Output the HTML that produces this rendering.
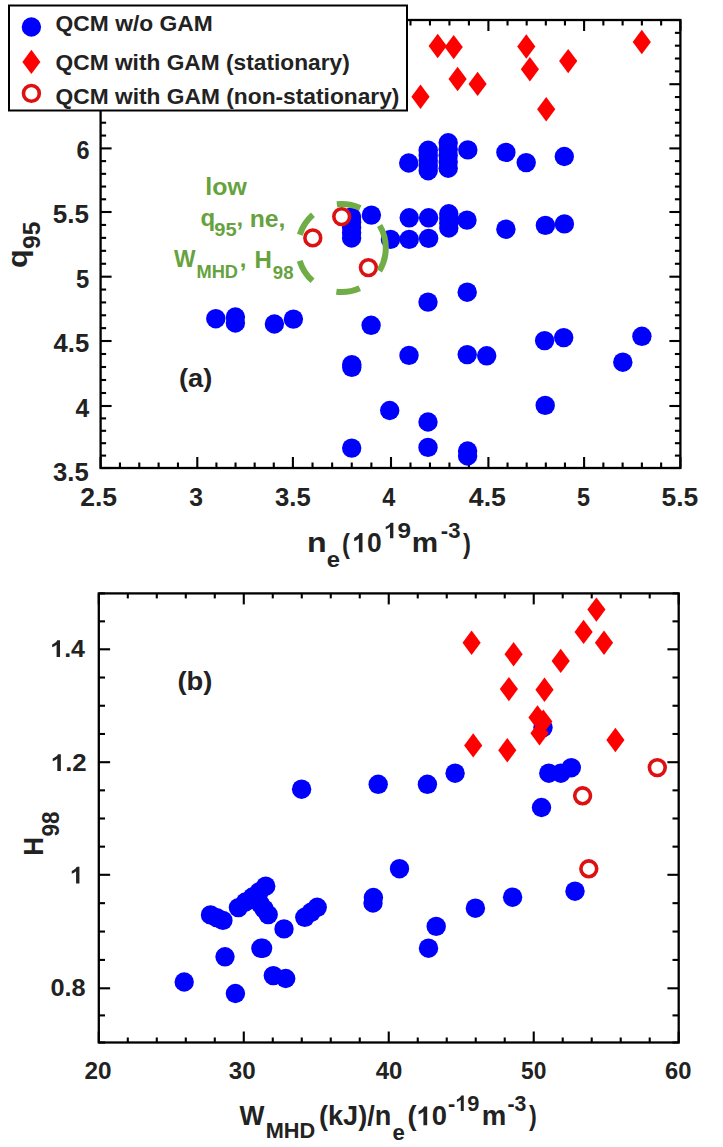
<!DOCTYPE html>
<html><head><meta charset="utf-8"><style>
html,body{margin:0;padding:0;background:#fff;width:723px;height:1147px;overflow:hidden}
svg text{font-family:"Liberation Sans", sans-serif;font-kerning:none}
</style></head><body>
<svg width="723" height="1147" viewBox="0 0 723 1147" style="position:absolute;left:0;top:0">
<rect width="723" height="1147" fill="#fff"/>
<line x1="100.60" y1="468.0" x2="100.60" y2="457.0" stroke="#000" stroke-width="2.1"/>
<line x1="100.60" y1="20.0" x2="100.60" y2="31.0" stroke="#000" stroke-width="2.1"/>
<line x1="197.30" y1="468.0" x2="197.30" y2="457.0" stroke="#000" stroke-width="2.1"/>
<line x1="197.30" y1="20.0" x2="197.30" y2="31.0" stroke="#000" stroke-width="2.1"/>
<line x1="292.90" y1="468.0" x2="292.90" y2="457.0" stroke="#000" stroke-width="2.1"/>
<line x1="292.90" y1="20.0" x2="292.90" y2="31.0" stroke="#000" stroke-width="2.1"/>
<line x1="391.00" y1="468.0" x2="391.00" y2="457.0" stroke="#000" stroke-width="2.1"/>
<line x1="391.00" y1="20.0" x2="391.00" y2="31.0" stroke="#000" stroke-width="2.1"/>
<line x1="488.40" y1="468.0" x2="488.40" y2="457.0" stroke="#000" stroke-width="2.1"/>
<line x1="488.40" y1="20.0" x2="488.40" y2="31.0" stroke="#000" stroke-width="2.1"/>
<line x1="584.10" y1="468.0" x2="584.10" y2="457.0" stroke="#000" stroke-width="2.1"/>
<line x1="584.10" y1="20.0" x2="584.10" y2="31.0" stroke="#000" stroke-width="2.1"/>
<line x1="680.40" y1="468.0" x2="680.40" y2="457.0" stroke="#000" stroke-width="2.1"/>
<line x1="680.40" y1="20.0" x2="680.40" y2="31.0" stroke="#000" stroke-width="2.1"/>
<line x1="119.94" y1="468.0" x2="119.94" y2="462.5" stroke="#000" stroke-width="2.1"/>
<line x1="119.94" y1="20.0" x2="119.94" y2="25.5" stroke="#000" stroke-width="2.1"/>
<line x1="139.28" y1="468.0" x2="139.28" y2="462.5" stroke="#000" stroke-width="2.1"/>
<line x1="139.28" y1="20.0" x2="139.28" y2="25.5" stroke="#000" stroke-width="2.1"/>
<line x1="158.62" y1="468.0" x2="158.62" y2="462.5" stroke="#000" stroke-width="2.1"/>
<line x1="158.62" y1="20.0" x2="158.62" y2="25.5" stroke="#000" stroke-width="2.1"/>
<line x1="177.96" y1="468.0" x2="177.96" y2="462.5" stroke="#000" stroke-width="2.1"/>
<line x1="177.96" y1="20.0" x2="177.96" y2="25.5" stroke="#000" stroke-width="2.1"/>
<line x1="216.42" y1="468.0" x2="216.42" y2="462.5" stroke="#000" stroke-width="2.1"/>
<line x1="216.42" y1="20.0" x2="216.42" y2="25.5" stroke="#000" stroke-width="2.1"/>
<line x1="235.54" y1="468.0" x2="235.54" y2="462.5" stroke="#000" stroke-width="2.1"/>
<line x1="235.54" y1="20.0" x2="235.54" y2="25.5" stroke="#000" stroke-width="2.1"/>
<line x1="254.66" y1="468.0" x2="254.66" y2="462.5" stroke="#000" stroke-width="2.1"/>
<line x1="254.66" y1="20.0" x2="254.66" y2="25.5" stroke="#000" stroke-width="2.1"/>
<line x1="273.78" y1="468.0" x2="273.78" y2="462.5" stroke="#000" stroke-width="2.1"/>
<line x1="273.78" y1="20.0" x2="273.78" y2="25.5" stroke="#000" stroke-width="2.1"/>
<line x1="312.52" y1="468.0" x2="312.52" y2="462.5" stroke="#000" stroke-width="2.1"/>
<line x1="312.52" y1="20.0" x2="312.52" y2="25.5" stroke="#000" stroke-width="2.1"/>
<line x1="332.14" y1="468.0" x2="332.14" y2="462.5" stroke="#000" stroke-width="2.1"/>
<line x1="332.14" y1="20.0" x2="332.14" y2="25.5" stroke="#000" stroke-width="2.1"/>
<line x1="351.76" y1="468.0" x2="351.76" y2="462.5" stroke="#000" stroke-width="2.1"/>
<line x1="351.76" y1="20.0" x2="351.76" y2="25.5" stroke="#000" stroke-width="2.1"/>
<line x1="371.38" y1="468.0" x2="371.38" y2="462.5" stroke="#000" stroke-width="2.1"/>
<line x1="371.38" y1="20.0" x2="371.38" y2="25.5" stroke="#000" stroke-width="2.1"/>
<line x1="410.48" y1="468.0" x2="410.48" y2="462.5" stroke="#000" stroke-width="2.1"/>
<line x1="410.48" y1="20.0" x2="410.48" y2="25.5" stroke="#000" stroke-width="2.1"/>
<line x1="429.96" y1="468.0" x2="429.96" y2="462.5" stroke="#000" stroke-width="2.1"/>
<line x1="429.96" y1="20.0" x2="429.96" y2="25.5" stroke="#000" stroke-width="2.1"/>
<line x1="449.44" y1="468.0" x2="449.44" y2="462.5" stroke="#000" stroke-width="2.1"/>
<line x1="449.44" y1="20.0" x2="449.44" y2="25.5" stroke="#000" stroke-width="2.1"/>
<line x1="468.92" y1="468.0" x2="468.92" y2="462.5" stroke="#000" stroke-width="2.1"/>
<line x1="468.92" y1="20.0" x2="468.92" y2="25.5" stroke="#000" stroke-width="2.1"/>
<line x1="507.54" y1="468.0" x2="507.54" y2="462.5" stroke="#000" stroke-width="2.1"/>
<line x1="507.54" y1="20.0" x2="507.54" y2="25.5" stroke="#000" stroke-width="2.1"/>
<line x1="526.68" y1="468.0" x2="526.68" y2="462.5" stroke="#000" stroke-width="2.1"/>
<line x1="526.68" y1="20.0" x2="526.68" y2="25.5" stroke="#000" stroke-width="2.1"/>
<line x1="545.82" y1="468.0" x2="545.82" y2="462.5" stroke="#000" stroke-width="2.1"/>
<line x1="545.82" y1="20.0" x2="545.82" y2="25.5" stroke="#000" stroke-width="2.1"/>
<line x1="564.96" y1="468.0" x2="564.96" y2="462.5" stroke="#000" stroke-width="2.1"/>
<line x1="564.96" y1="20.0" x2="564.96" y2="25.5" stroke="#000" stroke-width="2.1"/>
<line x1="603.36" y1="468.0" x2="603.36" y2="462.5" stroke="#000" stroke-width="2.1"/>
<line x1="603.36" y1="20.0" x2="603.36" y2="25.5" stroke="#000" stroke-width="2.1"/>
<line x1="622.62" y1="468.0" x2="622.62" y2="462.5" stroke="#000" stroke-width="2.1"/>
<line x1="622.62" y1="20.0" x2="622.62" y2="25.5" stroke="#000" stroke-width="2.1"/>
<line x1="641.88" y1="468.0" x2="641.88" y2="462.5" stroke="#000" stroke-width="2.1"/>
<line x1="641.88" y1="20.0" x2="641.88" y2="25.5" stroke="#000" stroke-width="2.1"/>
<line x1="661.14" y1="468.0" x2="661.14" y2="462.5" stroke="#000" stroke-width="2.1"/>
<line x1="661.14" y1="20.0" x2="661.14" y2="25.5" stroke="#000" stroke-width="2.1"/>
<line x1="100.6" y1="468.00" x2="111.6" y2="468.00" stroke="#000" stroke-width="2.1"/>
<line x1="680.4" y1="468.00" x2="669.4" y2="468.00" stroke="#000" stroke-width="2.1"/>
<line x1="100.6" y1="406.00" x2="111.6" y2="406.00" stroke="#000" stroke-width="2.1"/>
<line x1="680.4" y1="406.00" x2="669.4" y2="406.00" stroke="#000" stroke-width="2.1"/>
<line x1="100.6" y1="341.00" x2="111.6" y2="341.00" stroke="#000" stroke-width="2.1"/>
<line x1="680.4" y1="341.00" x2="669.4" y2="341.00" stroke="#000" stroke-width="2.1"/>
<line x1="100.6" y1="276.70" x2="111.6" y2="276.70" stroke="#000" stroke-width="2.1"/>
<line x1="680.4" y1="276.70" x2="669.4" y2="276.70" stroke="#000" stroke-width="2.1"/>
<line x1="100.6" y1="212.00" x2="111.6" y2="212.00" stroke="#000" stroke-width="2.1"/>
<line x1="680.4" y1="212.00" x2="669.4" y2="212.00" stroke="#000" stroke-width="2.1"/>
<line x1="100.6" y1="148.40" x2="111.6" y2="148.40" stroke="#000" stroke-width="2.1"/>
<line x1="680.4" y1="148.40" x2="669.4" y2="148.40" stroke="#000" stroke-width="2.1"/>
<line x1="100.6" y1="84.20" x2="111.6" y2="84.20" stroke="#000" stroke-width="2.1"/>
<line x1="680.4" y1="84.20" x2="669.4" y2="84.20" stroke="#000" stroke-width="2.1"/>
<line x1="100.6" y1="20.00" x2="111.6" y2="20.00" stroke="#000" stroke-width="2.1"/>
<line x1="680.4" y1="20.00" x2="669.4" y2="20.00" stroke="#000" stroke-width="2.1"/>
<line x1="100.6" y1="455.60" x2="106.1" y2="455.60" stroke="#000" stroke-width="2.1"/>
<line x1="680.4" y1="455.60" x2="674.9" y2="455.60" stroke="#000" stroke-width="2.1"/>
<line x1="100.6" y1="443.20" x2="106.1" y2="443.20" stroke="#000" stroke-width="2.1"/>
<line x1="680.4" y1="443.20" x2="674.9" y2="443.20" stroke="#000" stroke-width="2.1"/>
<line x1="100.6" y1="430.80" x2="106.1" y2="430.80" stroke="#000" stroke-width="2.1"/>
<line x1="680.4" y1="430.80" x2="674.9" y2="430.80" stroke="#000" stroke-width="2.1"/>
<line x1="100.6" y1="418.40" x2="106.1" y2="418.40" stroke="#000" stroke-width="2.1"/>
<line x1="680.4" y1="418.40" x2="674.9" y2="418.40" stroke="#000" stroke-width="2.1"/>
<line x1="100.6" y1="393.00" x2="106.1" y2="393.00" stroke="#000" stroke-width="2.1"/>
<line x1="680.4" y1="393.00" x2="674.9" y2="393.00" stroke="#000" stroke-width="2.1"/>
<line x1="100.6" y1="380.00" x2="106.1" y2="380.00" stroke="#000" stroke-width="2.1"/>
<line x1="680.4" y1="380.00" x2="674.9" y2="380.00" stroke="#000" stroke-width="2.1"/>
<line x1="100.6" y1="367.00" x2="106.1" y2="367.00" stroke="#000" stroke-width="2.1"/>
<line x1="680.4" y1="367.00" x2="674.9" y2="367.00" stroke="#000" stroke-width="2.1"/>
<line x1="100.6" y1="354.00" x2="106.1" y2="354.00" stroke="#000" stroke-width="2.1"/>
<line x1="680.4" y1="354.00" x2="674.9" y2="354.00" stroke="#000" stroke-width="2.1"/>
<line x1="100.6" y1="328.14" x2="106.1" y2="328.14" stroke="#000" stroke-width="2.1"/>
<line x1="680.4" y1="328.14" x2="674.9" y2="328.14" stroke="#000" stroke-width="2.1"/>
<line x1="100.6" y1="315.28" x2="106.1" y2="315.28" stroke="#000" stroke-width="2.1"/>
<line x1="680.4" y1="315.28" x2="674.9" y2="315.28" stroke="#000" stroke-width="2.1"/>
<line x1="100.6" y1="302.42" x2="106.1" y2="302.42" stroke="#000" stroke-width="2.1"/>
<line x1="680.4" y1="302.42" x2="674.9" y2="302.42" stroke="#000" stroke-width="2.1"/>
<line x1="100.6" y1="289.56" x2="106.1" y2="289.56" stroke="#000" stroke-width="2.1"/>
<line x1="680.4" y1="289.56" x2="674.9" y2="289.56" stroke="#000" stroke-width="2.1"/>
<line x1="100.6" y1="263.76" x2="106.1" y2="263.76" stroke="#000" stroke-width="2.1"/>
<line x1="680.4" y1="263.76" x2="674.9" y2="263.76" stroke="#000" stroke-width="2.1"/>
<line x1="100.6" y1="250.82" x2="106.1" y2="250.82" stroke="#000" stroke-width="2.1"/>
<line x1="680.4" y1="250.82" x2="674.9" y2="250.82" stroke="#000" stroke-width="2.1"/>
<line x1="100.6" y1="237.88" x2="106.1" y2="237.88" stroke="#000" stroke-width="2.1"/>
<line x1="680.4" y1="237.88" x2="674.9" y2="237.88" stroke="#000" stroke-width="2.1"/>
<line x1="100.6" y1="224.94" x2="106.1" y2="224.94" stroke="#000" stroke-width="2.1"/>
<line x1="680.4" y1="224.94" x2="674.9" y2="224.94" stroke="#000" stroke-width="2.1"/>
<line x1="100.6" y1="199.28" x2="106.1" y2="199.28" stroke="#000" stroke-width="2.1"/>
<line x1="680.4" y1="199.28" x2="674.9" y2="199.28" stroke="#000" stroke-width="2.1"/>
<line x1="100.6" y1="186.56" x2="106.1" y2="186.56" stroke="#000" stroke-width="2.1"/>
<line x1="680.4" y1="186.56" x2="674.9" y2="186.56" stroke="#000" stroke-width="2.1"/>
<line x1="100.6" y1="173.84" x2="106.1" y2="173.84" stroke="#000" stroke-width="2.1"/>
<line x1="680.4" y1="173.84" x2="674.9" y2="173.84" stroke="#000" stroke-width="2.1"/>
<line x1="100.6" y1="161.12" x2="106.1" y2="161.12" stroke="#000" stroke-width="2.1"/>
<line x1="680.4" y1="161.12" x2="674.9" y2="161.12" stroke="#000" stroke-width="2.1"/>
<line x1="100.6" y1="135.56" x2="106.1" y2="135.56" stroke="#000" stroke-width="2.1"/>
<line x1="680.4" y1="135.56" x2="674.9" y2="135.56" stroke="#000" stroke-width="2.1"/>
<line x1="100.6" y1="122.72" x2="106.1" y2="122.72" stroke="#000" stroke-width="2.1"/>
<line x1="680.4" y1="122.72" x2="674.9" y2="122.72" stroke="#000" stroke-width="2.1"/>
<line x1="100.6" y1="109.88" x2="106.1" y2="109.88" stroke="#000" stroke-width="2.1"/>
<line x1="680.4" y1="109.88" x2="674.9" y2="109.88" stroke="#000" stroke-width="2.1"/>
<line x1="100.6" y1="97.04" x2="106.1" y2="97.04" stroke="#000" stroke-width="2.1"/>
<line x1="680.4" y1="97.04" x2="674.9" y2="97.04" stroke="#000" stroke-width="2.1"/>
<line x1="100.6" y1="71.36" x2="106.1" y2="71.36" stroke="#000" stroke-width="2.1"/>
<line x1="680.4" y1="71.36" x2="674.9" y2="71.36" stroke="#000" stroke-width="2.1"/>
<line x1="100.6" y1="58.52" x2="106.1" y2="58.52" stroke="#000" stroke-width="2.1"/>
<line x1="680.4" y1="58.52" x2="674.9" y2="58.52" stroke="#000" stroke-width="2.1"/>
<line x1="100.6" y1="45.68" x2="106.1" y2="45.68" stroke="#000" stroke-width="2.1"/>
<line x1="680.4" y1="45.68" x2="674.9" y2="45.68" stroke="#000" stroke-width="2.1"/>
<line x1="100.6" y1="32.84" x2="106.1" y2="32.84" stroke="#000" stroke-width="2.1"/>
<line x1="680.4" y1="32.84" x2="674.9" y2="32.84" stroke="#000" stroke-width="2.1"/>
<rect x="100.6" y="20.0" width="579.8" height="448.0" fill="none" stroke="#000" stroke-width="2.3"/>
<circle cx="408.7" cy="163" r="9.7" fill="#0000ff"/>
<circle cx="428.2" cy="150.3" r="9.7" fill="#0000ff"/>
<circle cx="428.2" cy="155.4" r="9.7" fill="#0000ff"/>
<circle cx="428.2" cy="160.5" r="9.7" fill="#0000ff"/>
<circle cx="428.2" cy="165.6" r="9.7" fill="#0000ff"/>
<circle cx="428.2" cy="170.7" r="9.7" fill="#0000ff"/>
<circle cx="448.2" cy="142.8" r="9.7" fill="#0000ff"/>
<circle cx="448.2" cy="149.2" r="9.7" fill="#0000ff"/>
<circle cx="448.2" cy="155.5" r="9.7" fill="#0000ff"/>
<circle cx="448.2" cy="161.9" r="9.7" fill="#0000ff"/>
<circle cx="448.2" cy="168.2" r="9.7" fill="#0000ff"/>
<circle cx="467.8" cy="149.9" r="9.7" fill="#0000ff"/>
<circle cx="505.9" cy="152.4" r="9.7" fill="#0000ff"/>
<circle cx="526.2" cy="162.6" r="9.7" fill="#0000ff"/>
<circle cx="564.3" cy="156.5" r="9.7" fill="#0000ff"/>
<circle cx="409.2" cy="217.8" r="9.7" fill="#0000ff"/>
<circle cx="428.6" cy="217.8" r="9.7" fill="#0000ff"/>
<circle cx="448.8" cy="213.8" r="9.7" fill="#0000ff"/>
<circle cx="448.8" cy="218.5" r="9.7" fill="#0000ff"/>
<circle cx="448.8" cy="223.2" r="9.7" fill="#0000ff"/>
<circle cx="448.8" cy="228" r="9.7" fill="#0000ff"/>
<circle cx="467" cy="220.1" r="9.7" fill="#0000ff"/>
<circle cx="505.9" cy="229.2" r="9.7" fill="#0000ff"/>
<circle cx="545.4" cy="225.4" r="9.7" fill="#0000ff"/>
<circle cx="564.4" cy="223.9" r="9.7" fill="#0000ff"/>
<circle cx="371.4" cy="215.1" r="9.7" fill="#0000ff"/>
<circle cx="390.5" cy="239.4" r="9.7" fill="#0000ff"/>
<circle cx="409.2" cy="239.4" r="9.7" fill="#0000ff"/>
<circle cx="428.6" cy="238.4" r="9.7" fill="#0000ff"/>
<circle cx="351.6" cy="217" r="9.7" fill="#0000ff"/>
<circle cx="351.6" cy="222.3" r="9.7" fill="#0000ff"/>
<circle cx="351.6" cy="227.5" r="9.7" fill="#0000ff"/>
<circle cx="351.6" cy="232.8" r="9.7" fill="#0000ff"/>
<circle cx="351.6" cy="238" r="9.7" fill="#0000ff"/>
<circle cx="428" cy="302.1" r="9.7" fill="#0000ff"/>
<circle cx="467.2" cy="292.2" r="9.7" fill="#0000ff"/>
<circle cx="371.1" cy="325.3" r="9.7" fill="#0000ff"/>
<circle cx="351.8" cy="364.6" r="9.7" fill="#0000ff"/>
<circle cx="351.8" cy="367.4" r="9.7" fill="#0000ff"/>
<circle cx="409" cy="355.4" r="9.7" fill="#0000ff"/>
<circle cx="467.2" cy="354.6" r="9.7" fill="#0000ff"/>
<circle cx="486.7" cy="355.8" r="9.7" fill="#0000ff"/>
<circle cx="544.6" cy="340.6" r="9.7" fill="#0000ff"/>
<circle cx="563.7" cy="337.6" r="9.7" fill="#0000ff"/>
<circle cx="641.9" cy="336.3" r="9.7" fill="#0000ff"/>
<circle cx="622.8" cy="362.2" r="9.7" fill="#0000ff"/>
<circle cx="545.2" cy="405.4" r="9.7" fill="#0000ff"/>
<circle cx="389.7" cy="410.5" r="9.7" fill="#0000ff"/>
<circle cx="428" cy="422" r="9.7" fill="#0000ff"/>
<circle cx="428" cy="447.4" r="9.7" fill="#0000ff"/>
<circle cx="351.7" cy="448.1" r="9.7" fill="#0000ff"/>
<circle cx="467.6" cy="451" r="9.7" fill="#0000ff"/>
<circle cx="467.6" cy="456" r="9.7" fill="#0000ff"/>
<circle cx="215.8" cy="318.7" r="9.7" fill="#0000ff"/>
<circle cx="235.4" cy="317" r="9.7" fill="#0000ff"/>
<circle cx="235.4" cy="323" r="9.7" fill="#0000ff"/>
<circle cx="274.4" cy="324" r="9.7" fill="#0000ff"/>
<circle cx="293.4" cy="319.1" r="9.7" fill="#0000ff"/>
<circle cx="341.7" cy="216.6" r="7.9" fill="#fff" stroke="#dd1111" stroke-width="3.6"/>
<circle cx="312.8" cy="237.9" r="7.9" fill="#fff" stroke="#dd1111" stroke-width="3.6"/>
<circle cx="368.4" cy="267.6" r="7.9" fill="#fff" stroke="#dd1111" stroke-width="3.6"/>
<polygon points="437.7,33.8 446.8,46 437.7,58.2 428.59999999999997,46" fill="#ff0000"/>
<polygon points="453.7,34.900000000000006 462.8,47.1 453.7,59.3 444.59999999999997,47.1" fill="#ff0000"/>
<polygon points="457.6,66.8 466.70000000000005,79 457.6,91.2 448.5,79" fill="#ff0000"/>
<polygon points="477.6,71.7 486.70000000000005,83.9 477.6,96.10000000000001 468.5,83.9" fill="#ff0000"/>
<polygon points="420.5,84.5 429.6,96.7 420.5,108.9 411.4,96.7" fill="#ff0000"/>
<polygon points="526.3,34.3 535.4,46.5 526.3,58.7 517.1999999999999,46.5" fill="#ff0000"/>
<polygon points="529.9,57.099999999999994 539.0,69.3 529.9,81.5 520.8,69.3" fill="#ff0000"/>
<polygon points="568.2,48.900000000000006 577.3000000000001,61.1 568.2,73.3 559.1,61.1" fill="#ff0000"/>
<polygon points="546.2,97.1 555.3000000000001,109.3 546.2,121.5 537.1,109.3" fill="#ff0000"/>
<polygon points="641.8,29.8 650.9,42 641.8,54.2 632.6999999999999,42" fill="#ff0000"/>
<circle cx="341.8" cy="248" r="44" fill="none" stroke="#70ad47" stroke-width="6" stroke-dasharray="24 26.5"/>
<rect x="9" y="5.5" width="398" height="105" fill="#fff" stroke="#000" stroke-width="2"/>
<circle cx="31.4" cy="27" r="9.7" fill="#0000ff"/>
<polygon points="31.4,49.8 40.4,61.9 31.4,74.0 22.4,61.9" fill="#ff0000"/>
<circle cx="31.4" cy="93.4" r="7.9" fill="#fff" stroke="#dd1111" stroke-width="3.6"/>
<line x1="98.80" y1="1042.5" x2="98.80" y2="1031.5" stroke="#000" stroke-width="2.1"/>
<line x1="98.80" y1="593.4" x2="98.80" y2="604.4" stroke="#000" stroke-width="2.1"/>
<line x1="243.78" y1="1042.5" x2="243.78" y2="1031.5" stroke="#000" stroke-width="2.1"/>
<line x1="243.78" y1="593.4" x2="243.78" y2="604.4" stroke="#000" stroke-width="2.1"/>
<line x1="388.75" y1="1042.5" x2="388.75" y2="1031.5" stroke="#000" stroke-width="2.1"/>
<line x1="388.75" y1="593.4" x2="388.75" y2="604.4" stroke="#000" stroke-width="2.1"/>
<line x1="533.73" y1="1042.5" x2="533.73" y2="1031.5" stroke="#000" stroke-width="2.1"/>
<line x1="533.73" y1="593.4" x2="533.73" y2="604.4" stroke="#000" stroke-width="2.1"/>
<line x1="678.70" y1="1042.5" x2="678.70" y2="1031.5" stroke="#000" stroke-width="2.1"/>
<line x1="678.70" y1="593.4" x2="678.70" y2="604.4" stroke="#000" stroke-width="2.1"/>
<line x1="127.80" y1="1042.5" x2="127.80" y2="1037.5" stroke="#000" stroke-width="2.1"/>
<line x1="127.80" y1="593.4" x2="127.80" y2="598.4" stroke="#000" stroke-width="2.1"/>
<line x1="156.79" y1="1042.5" x2="156.79" y2="1037.5" stroke="#000" stroke-width="2.1"/>
<line x1="156.79" y1="593.4" x2="156.79" y2="598.4" stroke="#000" stroke-width="2.1"/>
<line x1="185.79" y1="1042.5" x2="185.79" y2="1037.5" stroke="#000" stroke-width="2.1"/>
<line x1="185.79" y1="593.4" x2="185.79" y2="598.4" stroke="#000" stroke-width="2.1"/>
<line x1="214.78" y1="1042.5" x2="214.78" y2="1037.5" stroke="#000" stroke-width="2.1"/>
<line x1="214.78" y1="593.4" x2="214.78" y2="598.4" stroke="#000" stroke-width="2.1"/>
<line x1="272.77" y1="1042.5" x2="272.77" y2="1037.5" stroke="#000" stroke-width="2.1"/>
<line x1="272.77" y1="593.4" x2="272.77" y2="598.4" stroke="#000" stroke-width="2.1"/>
<line x1="301.77" y1="1042.5" x2="301.77" y2="1037.5" stroke="#000" stroke-width="2.1"/>
<line x1="301.77" y1="593.4" x2="301.77" y2="598.4" stroke="#000" stroke-width="2.1"/>
<line x1="330.76" y1="1042.5" x2="330.76" y2="1037.5" stroke="#000" stroke-width="2.1"/>
<line x1="330.76" y1="593.4" x2="330.76" y2="598.4" stroke="#000" stroke-width="2.1"/>
<line x1="359.76" y1="1042.5" x2="359.76" y2="1037.5" stroke="#000" stroke-width="2.1"/>
<line x1="359.76" y1="593.4" x2="359.76" y2="598.4" stroke="#000" stroke-width="2.1"/>
<line x1="417.75" y1="1042.5" x2="417.75" y2="1037.5" stroke="#000" stroke-width="2.1"/>
<line x1="417.75" y1="593.4" x2="417.75" y2="598.4" stroke="#000" stroke-width="2.1"/>
<line x1="446.74" y1="1042.5" x2="446.74" y2="1037.5" stroke="#000" stroke-width="2.1"/>
<line x1="446.74" y1="593.4" x2="446.74" y2="598.4" stroke="#000" stroke-width="2.1"/>
<line x1="475.74" y1="1042.5" x2="475.74" y2="1037.5" stroke="#000" stroke-width="2.1"/>
<line x1="475.74" y1="593.4" x2="475.74" y2="598.4" stroke="#000" stroke-width="2.1"/>
<line x1="504.73" y1="1042.5" x2="504.73" y2="1037.5" stroke="#000" stroke-width="2.1"/>
<line x1="504.73" y1="593.4" x2="504.73" y2="598.4" stroke="#000" stroke-width="2.1"/>
<line x1="562.72" y1="1042.5" x2="562.72" y2="1037.5" stroke="#000" stroke-width="2.1"/>
<line x1="562.72" y1="593.4" x2="562.72" y2="598.4" stroke="#000" stroke-width="2.1"/>
<line x1="591.72" y1="1042.5" x2="591.72" y2="1037.5" stroke="#000" stroke-width="2.1"/>
<line x1="591.72" y1="593.4" x2="591.72" y2="598.4" stroke="#000" stroke-width="2.1"/>
<line x1="620.71" y1="1042.5" x2="620.71" y2="1037.5" stroke="#000" stroke-width="2.1"/>
<line x1="620.71" y1="593.4" x2="620.71" y2="598.4" stroke="#000" stroke-width="2.1"/>
<line x1="649.71" y1="1042.5" x2="649.71" y2="1037.5" stroke="#000" stroke-width="2.1"/>
<line x1="649.71" y1="593.4" x2="649.71" y2="598.4" stroke="#000" stroke-width="2.1"/>
<line x1="98.8" y1="988.30" x2="110.1" y2="988.30" stroke="#000" stroke-width="2.1"/>
<line x1="678.7" y1="988.30" x2="667.4000000000001" y2="988.30" stroke="#000" stroke-width="2.1"/>
<line x1="98.8" y1="874.80" x2="110.1" y2="874.80" stroke="#000" stroke-width="2.1"/>
<line x1="678.7" y1="874.80" x2="667.4000000000001" y2="874.80" stroke="#000" stroke-width="2.1"/>
<line x1="98.8" y1="762.20" x2="110.1" y2="762.20" stroke="#000" stroke-width="2.1"/>
<line x1="678.7" y1="762.20" x2="667.4000000000001" y2="762.20" stroke="#000" stroke-width="2.1"/>
<line x1="98.8" y1="649.30" x2="110.1" y2="649.30" stroke="#000" stroke-width="2.1"/>
<line x1="678.7" y1="649.30" x2="667.4000000000001" y2="649.30" stroke="#000" stroke-width="2.1"/>
<line x1="98.8" y1="1042.50" x2="105.0" y2="1042.50" stroke="#000" stroke-width="2.1"/>
<line x1="678.7" y1="1042.50" x2="672.5" y2="1042.50" stroke="#000" stroke-width="2.1"/>
<line x1="98.8" y1="1015.40" x2="105.0" y2="1015.40" stroke="#000" stroke-width="2.1"/>
<line x1="678.7" y1="1015.40" x2="672.5" y2="1015.40" stroke="#000" stroke-width="2.1"/>
<line x1="98.8" y1="959.92" x2="105.0" y2="959.92" stroke="#000" stroke-width="2.1"/>
<line x1="678.7" y1="959.92" x2="672.5" y2="959.92" stroke="#000" stroke-width="2.1"/>
<line x1="98.8" y1="931.55" x2="105.0" y2="931.55" stroke="#000" stroke-width="2.1"/>
<line x1="678.7" y1="931.55" x2="672.5" y2="931.55" stroke="#000" stroke-width="2.1"/>
<line x1="98.8" y1="903.17" x2="105.0" y2="903.17" stroke="#000" stroke-width="2.1"/>
<line x1="678.7" y1="903.17" x2="672.5" y2="903.17" stroke="#000" stroke-width="2.1"/>
<line x1="98.8" y1="846.65" x2="105.0" y2="846.65" stroke="#000" stroke-width="2.1"/>
<line x1="678.7" y1="846.65" x2="672.5" y2="846.65" stroke="#000" stroke-width="2.1"/>
<line x1="98.8" y1="818.50" x2="105.0" y2="818.50" stroke="#000" stroke-width="2.1"/>
<line x1="678.7" y1="818.50" x2="672.5" y2="818.50" stroke="#000" stroke-width="2.1"/>
<line x1="98.8" y1="790.35" x2="105.0" y2="790.35" stroke="#000" stroke-width="2.1"/>
<line x1="678.7" y1="790.35" x2="672.5" y2="790.35" stroke="#000" stroke-width="2.1"/>
<line x1="98.8" y1="733.98" x2="105.0" y2="733.98" stroke="#000" stroke-width="2.1"/>
<line x1="678.7" y1="733.98" x2="672.5" y2="733.98" stroke="#000" stroke-width="2.1"/>
<line x1="98.8" y1="705.75" x2="105.0" y2="705.75" stroke="#000" stroke-width="2.1"/>
<line x1="678.7" y1="705.75" x2="672.5" y2="705.75" stroke="#000" stroke-width="2.1"/>
<line x1="98.8" y1="677.52" x2="105.0" y2="677.52" stroke="#000" stroke-width="2.1"/>
<line x1="678.7" y1="677.52" x2="672.5" y2="677.52" stroke="#000" stroke-width="2.1"/>
<line x1="98.8" y1="621.35" x2="105.0" y2="621.35" stroke="#000" stroke-width="2.1"/>
<line x1="678.7" y1="621.35" x2="672.5" y2="621.35" stroke="#000" stroke-width="2.1"/>
<line x1="98.8" y1="593.40" x2="105.0" y2="593.40" stroke="#000" stroke-width="2.1"/>
<line x1="678.7" y1="593.40" x2="672.5" y2="593.40" stroke="#000" stroke-width="2.1"/>
<rect x="98.8" y="593.4" width="579.9000000000001" height="449.1" fill="none" stroke="#000" stroke-width="2.3"/>
<circle cx="184.2" cy="982" r="9.7" fill="#0000ff"/>
<circle cx="225" cy="956.8" r="9.7" fill="#0000ff"/>
<circle cx="235.4" cy="993.5" r="9.7" fill="#0000ff"/>
<circle cx="210.5" cy="914.9" r="9.7" fill="#0000ff"/>
<circle cx="216.7" cy="917.6" r="9.7" fill="#0000ff"/>
<circle cx="222.9" cy="920.4" r="9.7" fill="#0000ff"/>
<circle cx="238.4" cy="907.6" r="9.7" fill="#0000ff"/>
<circle cx="245.5" cy="902" r="9.7" fill="#0000ff"/>
<circle cx="252.5" cy="897" r="9.7" fill="#0000ff"/>
<circle cx="259" cy="892" r="9.7" fill="#0000ff"/>
<circle cx="265.7" cy="886.2" r="9.7" fill="#0000ff"/>
<circle cx="260" cy="903.5" r="9.7" fill="#0000ff"/>
<circle cx="264.2" cy="909.2" r="9.7" fill="#0000ff"/>
<circle cx="268.2" cy="914.6" r="9.7" fill="#0000ff"/>
<circle cx="284" cy="928.9" r="9.7" fill="#0000ff"/>
<circle cx="260.9" cy="948.3" r="9.7" fill="#0000ff"/>
<circle cx="262.6" cy="948.3" r="9.7" fill="#0000ff"/>
<circle cx="273.3" cy="975.6" r="9.7" fill="#0000ff"/>
<circle cx="285.7" cy="978.5" r="9.7" fill="#0000ff"/>
<circle cx="304.8" cy="917.3" r="9.7" fill="#0000ff"/>
<circle cx="311" cy="912.3" r="9.7" fill="#0000ff"/>
<circle cx="317.2" cy="907.3" r="9.7" fill="#0000ff"/>
<circle cx="373.4" cy="897.5" r="9.7" fill="#0000ff"/>
<circle cx="373" cy="903" r="9.7" fill="#0000ff"/>
<circle cx="399.5" cy="868.7" r="9.7" fill="#0000ff"/>
<circle cx="436.2" cy="926.4" r="9.7" fill="#0000ff"/>
<circle cx="428.5" cy="948.2" r="9.7" fill="#0000ff"/>
<circle cx="475.4" cy="908.2" r="9.7" fill="#0000ff"/>
<circle cx="512.6" cy="897.2" r="9.7" fill="#0000ff"/>
<circle cx="575" cy="891.2" r="9.7" fill="#0000ff"/>
<circle cx="301.6" cy="789.2" r="9.7" fill="#0000ff"/>
<circle cx="378.2" cy="784.3" r="9.7" fill="#0000ff"/>
<circle cx="427.4" cy="784.3" r="9.7" fill="#0000ff"/>
<circle cx="455.1" cy="773.2" r="9.7" fill="#0000ff"/>
<circle cx="543" cy="727.6" r="9.7" fill="#0000ff"/>
<circle cx="548.8" cy="773.2" r="9.7" fill="#0000ff"/>
<circle cx="560.9" cy="773.2" r="9.7" fill="#0000ff"/>
<circle cx="571.3" cy="767.7" r="9.7" fill="#0000ff"/>
<circle cx="541.5" cy="807.5" r="9.7" fill="#0000ff"/>
<circle cx="657.3" cy="767.6" r="7.9" fill="#fff" stroke="#dd1111" stroke-width="3.6"/>
<circle cx="582.6" cy="795.8" r="7.9" fill="#fff" stroke="#dd1111" stroke-width="3.6"/>
<circle cx="588.8" cy="868.8" r="7.9" fill="#fff" stroke="#dd1111" stroke-width="3.6"/>
<polygon points="471.6,630.5 480.70000000000005,642.7 471.6,654.9000000000001 462.5,642.7" fill="#ff0000"/>
<polygon points="513.6,642.0 522.7,654.2 513.6,666.4000000000001 504.5,654.2" fill="#ff0000"/>
<polygon points="508.9,676.9 518.0,689.1 508.9,701.3000000000001 499.79999999999995,689.1" fill="#ff0000"/>
<polygon points="544.5,677.5 553.6,689.7 544.5,701.9000000000001 535.4,689.7" fill="#ff0000"/>
<polygon points="560.7,648.6999999999999 569.8000000000001,660.9 560.7,673.1 551.6,660.9" fill="#ff0000"/>
<polygon points="583.6,619.6999999999999 592.7,631.9 583.6,644.1 574.5,631.9" fill="#ff0000"/>
<polygon points="596.4,597.4 605.5,609.6 596.4,621.8000000000001 587.3,609.6" fill="#ff0000"/>
<polygon points="604,630.5 613.1,642.7 604,654.9000000000001 594.9,642.7" fill="#ff0000"/>
<polygon points="537.5,705.1999999999999 546.6,717.4 537.5,729.6 528.4,717.4" fill="#ff0000"/>
<polygon points="543.3,709.4 552.4,721.6 543.3,733.8000000000001 534.1999999999999,721.6" fill="#ff0000"/>
<polygon points="539.5,721.0 548.6,733.2 539.5,745.4000000000001 530.4,733.2" fill="#ff0000"/>
<polygon points="615.4,727.8 624.5,740 615.4,752.2 606.3,740" fill="#ff0000"/>
<polygon points="473.2,733.1999999999999 482.3,745.4 473.2,757.6 464.09999999999997,745.4" fill="#ff0000"/>
<polygon points="507.3,738.0 516.4,750.2 507.3,762.4000000000001 498.2,750.2" fill="#ff0000"/>
<text transform="translate(55.58,31.3) scale(1.0145,1)" font-size="22.5" font-weight="bold" fill="#222">QCM w/o GAM</text>
<text transform="translate(55.59,69.6) scale(1.0104,1)" font-size="22.5" font-weight="bold" fill="#222">QCM with GAM (stationary)</text>
<text transform="translate(55.59,103.8) scale(1.0118,1)" font-size="22.5" font-weight="bold" fill="#222">QCM with GAM (non-stationary)</text>
<text transform="translate(80.2,505.6) scale(1.0418,1)" font-size="25.5" font-weight="bold" fill="#222">2.5</text>
<text transform="translate(189.2,505.6) scale(0.9702,1)" font-size="25.5" font-weight="bold" fill="#222">3</text>
<text transform="translate(275.1,505.6) scale(1.0062,1)" font-size="25.5" font-weight="bold" fill="#222">3.5</text>
<text transform="translate(382.3,505.6) scale(0.92,1)" font-size="25.5" font-weight="bold" fill="#222">4</text>
<text transform="translate(468.8,505.6) scale(1.0474,1)" font-size="25.5" font-weight="bold" fill="#222">4.5</text>
<text transform="translate(577.0,505.6) scale(0.92,1)" font-size="25.5" font-weight="bold" fill="#222">5</text>
<text transform="translate(661.6,505.6) scale(1.0358,1)" font-size="25.5" font-weight="bold" fill="#222">5.5</text>
<text transform="translate(76.5,158.9) scale(0.9217,1)" font-size="25.5" font-weight="bold" fill="#222">6</text>
<text transform="translate(52.8,222.6) scale(1.0191,1)" font-size="25.5" font-weight="bold" fill="#222">5.5</text>
<text transform="translate(76.1,287.5) scale(0.935,1)" font-size="25.5" font-weight="bold" fill="#222">5</text>
<text transform="translate(53.6,351.5) scale(1.006,1)" font-size="25.5" font-weight="bold" fill="#222">4.5</text>
<text transform="translate(75.6,417.2) scale(0.9662,1)" font-size="25.5" font-weight="bold" fill="#222">4</text>
<text transform="translate(53.1,480.5) scale(1.0062,1)" font-size="25.5" font-weight="bold" fill="#222">3.5</text>
<text transform="translate(84.4,1078.8) scale(0.9928,1)" font-size="24.5" font-weight="bold" fill="#222">20</text>
<text transform="translate(228.8,1078.8) scale(0.9857,1)" font-size="24.5" font-weight="bold" fill="#222">30</text>
<text transform="translate(375.7,1078.8) scale(0.9779,1)" font-size="24.5" font-weight="bold" fill="#222">40</text>
<text transform="translate(521.1,1078.8) scale(0.9298,1)" font-size="24.5" font-weight="bold" fill="#222">50</text>
<text transform="translate(665.1,1078.8) scale(0.9697,1)" font-size="24.5" font-weight="bold" fill="#222">60</text>
<g transform="translate(50.3,657.0) scale(1.0188,1)" fill="#222"><text x="0" y="0" font-size="24.5" font-weight="bold"> .4</text><path transform="translate(0.000,0) scale(0.01196,-0.01196)" d="M798 0H517V1014Q363 876 154 810V1054Q264 1088 393 1184Q521 1280 569 1409H798Z"/></g>
<g transform="translate(50.8,771.0) scale(1.0526,1)" fill="#222"><text x="0" y="0" font-size="24.5" font-weight="bold"> .2</text><path transform="translate(0.000,0) scale(0.01196,-0.01196)" d="M798 0H517V1014Q363 876 154 810V1054Q264 1088 393 1184Q521 1280 569 1409H798Z"/></g>
<g transform="translate(69.9,883.5) scale(1.0,1)" fill="#222"><text x="0" y="0" font-size="24.5" font-weight="bold"> </text><path transform="translate(0.000,0) scale(0.01196,-0.01196)" d="M798 0H517V1014Q363 876 154 810V1054Q264 1088 393 1184Q521 1280 569 1409H798Z"/></g>
<text transform="translate(50.5,995.5) scale(1.0327,1)" font-size="24.5" font-weight="bold" fill="#222">0.8</text>
<text transform="translate(178.95,386.6) scale(1.049,1)" font-size="26" font-weight="bold" fill="#222">(a)</text>
<text transform="translate(177.42,690.1) scale(1.052,1)" font-size="26" font-weight="bold" fill="#222">(b)</text>
<text transform="translate(307.1,552.2) scale(1.1716,1)" font-size="27.5" font-weight="bold" fill="#222">n</text>
<text transform="translate(326.8,566.9) scale(1.0575,1)" font-size="22.5" font-weight="bold" fill="#222">e</text>
<text transform="translate(341.9,553.2) scale(0.85,1)" font-size="28" font-weight="bold" fill="#222">(</text>
<g transform="translate(352.2,552.3) scale(0.9433,1)" fill="#222"><text x="0" y="0" font-size="28" font-weight="bold"> 0</text><path transform="translate(0.000,0) scale(0.01367,-0.01367)" d="M798 0H517V1014Q363 876 154 810V1054Q264 1088 393 1184Q521 1280 569 1409H798Z"/></g>
<g transform="translate(383.9,538.2) scale(1.0787,1)" fill="#222"><text x="0" y="0" font-size="22.5" font-weight="bold"> 9</text><path transform="translate(0.000,0) scale(0.01099,-0.01099)" d="M798 0H517V1014Q363 876 154 810V1054Q264 1088 393 1184Q521 1280 569 1409H798Z"/></g>
<text transform="translate(411.8,552.4) scale(1.0792,1)" font-size="27.5" font-weight="bold" fill="#222">m</text>
<text transform="translate(440.8,537.6) scale(0.98,1)" font-size="22.5" font-weight="bold" fill="#222">-3</text>
<text transform="translate(462.9,553.0) scale(0.85,1)" font-size="28" font-weight="bold" fill="#222">)</text>
<text transform="translate(239.5,1124.7) scale(0.9608,1)" font-size="27.5" font-weight="bold" fill="#222">W</text>
<text transform="translate(265.7,1138.4) scale(0.9878,1)" font-size="22" font-weight="bold" fill="#222">MHD</text>
<text transform="translate(319.0,1125.0) scale(0.9858,1)" font-size="27.5" font-weight="bold" fill="#222">(kJ)/n</text>
<text transform="translate(392.4,1139.6) scale(0.9848,1)" font-size="22.5" font-weight="bold" fill="#222">e</text>
<g transform="translate(407.4,1125.3) scale(0.9949,1)" fill="#222"><text x="0" y="0" font-size="27.5" font-weight="bold">( 0</text><path transform="translate(9.158,0) scale(0.01343,-0.01343)" d="M798 0H517V1014Q363 876 154 810V1054Q264 1088 393 1184Q521 1280 569 1409H798Z"/></g>
<g transform="translate(448.0,1110.9) scale(0.9688,1)" fill="#222"><text x="0" y="0" font-size="22.5" font-weight="bold">- 9</text><path transform="translate(7.493,0) scale(0.01099,-0.01099)" d="M798 0H517V1014Q363 876 154 810V1054Q264 1088 393 1184Q521 1280 569 1409H798Z"/></g>
<text transform="translate(481.7,1124.7) scale(1.0215,1)" font-size="27" font-weight="bold" fill="#222">m</text>
<text transform="translate(507.5,1110.6) scale(0.9444,1)" font-size="22.5" font-weight="bold" fill="#222">-3</text>
<text transform="translate(529.1,1125.0) scale(0.85,1)" font-size="27.5" font-weight="bold" fill="#222">)</text>
<text transform="translate(205.32,194.6) scale(1.0376,1)" font-size="24" font-weight="bold" fill="#66a23e">low</text>
<text transform="translate(200.39,226.1) scale(1.0032,1)" font-size="24" font-weight="bold" fill="#66a23e">q</text>
<text transform="translate(214.34,236.4) scale(1.0611,1)" font-size="19" font-weight="bold" fill="#66a23e">95</text>
<text transform="translate(236.4,225.5) scale(1.0,1)" font-size="24" font-weight="bold" fill="#66a23e">,</text>
<text transform="translate(249.72,226.5) scale(1.0327,1)" font-size="24" font-weight="bold" fill="#66a23e">ne,</text>
<text transform="translate(173.96,266.9) scale(0.9503,1)" font-size="24" font-weight="bold" fill="#66a23e">W</text>
<text transform="translate(196.44,277.8) scale(0.9614,1)" font-size="19" font-weight="bold" fill="#66a23e">MHD</text>
<text transform="translate(239.8,266.9) scale(1.0,1)" font-size="24" font-weight="bold" fill="#66a23e">,</text>
<text transform="translate(254.4,267.6) scale(1.0,1)" font-size="24" font-weight="bold" fill="#66a23e">H</text>
<text transform="translate(272.82,279.0) scale(0.9809,1)" font-size="19" font-weight="bold" fill="#66a23e">98</text>
<text transform="translate(26.8,267.94) rotate(-90) scale(1.0921,1)" font-size="28" font-weight="bold" fill="#222">q</text>
<text transform="translate(40.0,249.03) rotate(-90) scale(1.0327,1)" font-size="24" font-weight="bold" fill="#222">95</text>
<text transform="translate(42.7,855.63) rotate(-90) scale(0.9267,1)" font-size="28" font-weight="bold" fill="#222">H</text>
<text transform="translate(58.7,836.58) rotate(-90) scale(0.9756,1)" font-size="23" font-weight="bold" fill="#222">98</text>
</svg>
</body></html>
